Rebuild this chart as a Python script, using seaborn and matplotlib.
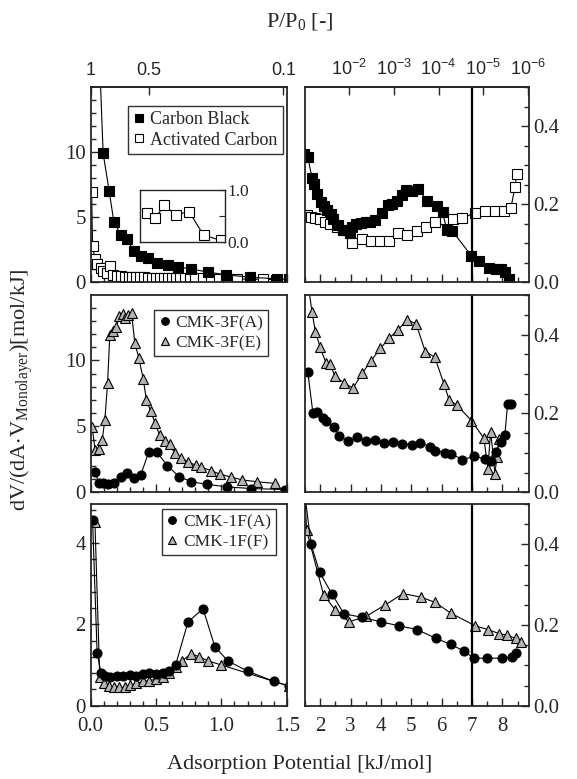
import numpy as np
import matplotlib
matplotlib.use("Agg")
import matplotlib.pyplot as plt
import seaborn as sns
from matplotlib.lines import Line2D
from matplotlib.ticker import MultipleLocator, FormatStrFormatter

sns.set_style("ticks")
plt.rcParams['font.family'] = ['Liberation Serif', 'DejaVu Serif']
plt.rcParams['mathtext.fontset'] = 'custom'
plt.rcParams['mathtext.rm'] = 'Liberation Serif'
plt.rcParams['mathtext.default'] = 'regular'

# ---- data: adsorption potential A [kJ/mol] vs dV/(dA*Vmono) [mol/kJ]
# top row: carbon black / activated carbon
cb_left_a = [0.065, 0.096, 0.142, 0.178, 0.231, 0.275, 0.33, 0.389, 0.44, 0.511, 0.593, 0.669, 0.771, 0.898, 1.038, 1.216, 1.425, 1.52]
cb_left_v = [18.0, 9.87, 6.98, 4.62, 3.62, 3.31, 2.39, 1.99, 1.86, 1.47, 1.28, 1.16, 1.0, 0.76, 0.55, 0.37, 0.24, 0.21]
ac_left_a = [0.008, 0.015, 0.033, 0.05, 0.076, 0.096, 0.122, 0.147, 0.173,
             0.20, 0.23, 0.26, 0.29, 0.32, 0.35, 0.38, 0.41, 0.44, 0.47, 0.50, 0.53, 0.56, 0.59, 0.62, 0.65, 0.68,
             0.72, 0.76, 0.80, 0.86, 0.92, 0.98, 1.05, 1.12, 1.22, 1.32, 1.42]
ac_left_v = [6.93, 2.73, 1.79, 1.42, 1.08, 0.87, 0.68, 1.2, 0.55,
             0.48, 0.45, 0.42, 0.40, 0.38, 0.37, 0.36, 0.35, 0.34, 0.33, 0.33, 0.32, 0.31, 0.31, 0.30, 0.30, 0.29,
             0.29, 0.28, 0.28, 0.27, 0.26, 0.25, 0.24, 0.23, 0.22, 0.2, 0.19]
cb_right_a = [1.48, 1.59, 1.73, 1.81, 1.89, 2.02, 2.13, 2.22, 2.35, 2.43, 2.59, 2.76, 2.97, 3.06, 3.19, 3.35, 3.52,
              3.65, 3.79, 4.03, 4.22, 4.38, 4.54, 4.68, 4.81, 5.03, 5.22, 5.52, 5.84, 6.03, 6.17, 6.35, 6.98, 7.23,
              7.57, 7.79, 7.95, 8.08, 8.22]
cb_right_v = [0.328, 0.321, 0.268, 0.252, 0.226, 0.205, 0.194, 0.185, 0.174, 0.162, 0.146, 0.133, 0.127, 0.142,
              0.148, 0.151, 0.153, 0.155, 0.159, 0.177, 0.198, 0.201, 0.207, 0.223, 0.237, 0.233, 0.240, 0.209,
              0.194, 0.179, 0.133, 0.131, 0.067, 0.055, 0.036, 0.034, 0.034, 0.025, 0.008]
ac_right_a = [1.55, 1.70, 1.84, 2.0, 2.16, 2.32, 2.54, 2.76, 3.06, 3.39, 3.68, 3.98, 4.27, 4.57, 4.87, 5.19, 5.48,
              5.77, 6.11, 6.38, 6.68, 7.09, 7.41, 7.74, 8.04, 8.28, 8.41, 8.47]
ac_right_v = [0.172, 0.168, 0.165, 0.162, 0.155, 0.148, 0.142, 0.133, 0.101, 0.110, 0.105, 0.105, 0.105, 0.125,
              0.120, 0.131, 0.142, 0.153, 0.162, 0.162, 0.165, 0.177, 0.181, 0.183, 0.181, 0.191, 0.243, 0.276]
inset_x = [0.086, 0.176, 0.29, 0.42, 0.58, 0.75, 0.95]
inset_v = [0.55, 0.45, 0.7, 0.52, 0.58, 0.13, 0.03]

# middle row: CMK-3F
cmk3a_left_a = [0.033, 0.063, 0.096, 0.134, 0.18, 0.231, 0.282, 0.333, 0.384, 0.445, 0.504, 0.588, 0.674, 0.771, 0.893, 1.046, 1.224, 1.49]
cmk3a_left_v = [1.54, 0.73, 0.73, 0.62, 0.68, 1.15, 1.46, 1.07, 1.33, 3.07, 3.07, 2.03, 1.2, 0.8, 0.6, 0.41, 0.29, 0.21]
cmk3e_left_a = [0.012, 0.035, 0.065, 0.089, 0.109, 0.13, 0.147, 0.173, 0.198, 0.218, 0.244, 0.262, 0.287, 0.313,
                0.338, 0.369, 0.402, 0.427, 0.46, 0.491, 0.529, 0.567, 0.605, 0.644, 0.695, 0.745, 0.804, 0.847,
                0.924, 0.987, 1.076, 1.16, 1.275, 1.407]
cmk3e_left_v = [4.92, 3.2, 3.3, 3.98, 5.49, 8.3, 11.95, 12.27, 12.52, 13.36, 13.49, 13.26, 13.44, 13.57, 11.35,
                10.18, 8.62, 7.0, 6.15, 5.29, 4.32, 3.93, 3.67, 2.95, 2.58, 2.32, 2.05, 1.9, 1.64, 1.38, 1.15,
                0.94, 0.8, 0.68]
cmk3a_right_a = [1.59, 1.76, 1.91, 2.09, 2.19, 2.45, 2.63, 2.92, 3.21, 3.52, 3.82, 4.11, 4.41, 4.70, 5.01, 5.30,
                 5.63, 5.79, 6.11, 6.31, 6.68, 7.06, 7.44, 7.62, 7.78, 7.95, 8.08, 8.17, 8.27]
cmk3a_right_v = [0.306, 0.202, 0.203, 0.188, 0.18, 0.165, 0.144, 0.129, 0.14, 0.129, 0.132, 0.126, 0.127, 0.123,
                 0.121, 0.126, 0.115, 0.105, 0.1, 0.098, 0.083, 0.091, 0.085, 0.08, 0.102, 0.127, 0.146, 0.225, 0.225]
cmk3e_right_a = [1.60, 1.73, 1.84, 2.0, 2.19, 2.32, 2.49, 2.78, 3.08, 3.39, 3.68, 3.98, 4.27, 4.57, 4.87, 5.16,
                 5.46, 5.77, 6.08, 6.25, 6.49, 6.98, 7.39, 7.52, 7.61, 7.70, 7.75, 7.82, 7.88]
cmk3e_right_v = [0.53, 0.458, 0.408, 0.368, 0.328, 0.326, 0.294, 0.278, 0.264, 0.303, 0.334, 0.365, 0.391, 0.413,
                 0.438, 0.427, 0.357, 0.343, 0.274, 0.233, 0.222, 0.182, 0.137, 0.06, 0.154, 0.09, 0.047, 0.09, 0.136]

# bottom row: CMK-1F
cmk1a_left_a = [0.015, 0.05, 0.08, 0.11, 0.15, 0.2, 0.25, 0.3, 0.35, 0.4, 0.45, 0.5, 0.55, 0.6, 0.65, 0.745, 0.86, 0.95, 1.05, 1.2, 1.4, 1.52]
cmk1a_left_v = [4.56, 1.3, 0.8, 0.72, 0.7, 0.72, 0.72, 0.75, 0.72, 0.78, 0.8, 0.78, 0.8, 0.85, 1.0, 2.06, 2.38, 1.45, 1.1, 0.85, 0.6, 0.48]
cmk1f_left_a = [0.033, 0.07, 0.1, 0.14, 0.18, 0.22, 0.26, 0.3, 0.35, 0.4, 0.45, 0.5, 0.55, 0.6, 0.65, 0.7, 0.77, 0.83, 0.9, 1.0, 1.52]
cmk1f_left_v = [4.52, 0.7, 0.55, 0.48, 0.45, 0.45, 0.45, 0.5, 0.55, 0.6, 0.62, 0.65, 0.7, 0.8, 0.95, 1.1, 1.28, 1.2, 1.1, 1.0, 0.48]
cmk1a_right_a = [1.50, 1.70, 1.98, 2.38, 2.78, 3.39, 4.0, 4.60, 5.19, 5.81, 6.3, 6.75, 7.05, 7.5, 8.0, 8.3, 8.45]
cmk1a_right_v = [0.52, 0.40, 0.331, 0.278, 0.228, 0.219, 0.208, 0.198, 0.189, 0.167, 0.152, 0.135, 0.118, 0.118, 0.118, 0.12, 0.13]
cmk1f_right_a = [1.50, 1.55, 2.11, 2.49, 2.95, 3.52, 4.14, 4.73, 5.33, 5.79, 6.31, 7.11, 7.52, 7.88, 8.15, 8.44, 8.62]
cmk1f_right_v = [0.52, 0.436, 0.275, 0.238, 0.208, 0.222, 0.25, 0.278, 0.269, 0.256, 0.229, 0.198, 0.189, 0.179, 0.175, 0.167, 0.157]

# top axis: relative pressure, A = RT ln(P0/P) for N2 at 77 K
RT = 8.314 * 77 / 1000
p_left = [1, 0.5, 0.1]
p_left_labels = ['1', '0.5', '0.1']
p_right = [1e-2, 1e-3, 1e-4, 1e-5, 1e-6]
p_right_labels = [r'$10^{-2}$', r'$10^{-3}$', r'$10^{-4}$', r'$10^{-5}$', r'$10^{-6}$']

fig = plt.figure(figsize=(5.77, 7.79), dpi=100)

rows = [(0.638, 0.250), (0.368, 0.253), (0.094, 0.259)]
left_x, left_w = 0.157, 0.340
right_x, right_w = 0.5286, 0.388

axes = []
for (b, h) in rows:
    axl = fig.add_axes([left_x, b, left_w, h])
    axr = fig.add_axes([right_x, b, right_w, h])
    axes.append((axl, axr))


def draw(ax, a, v, marker, face):
    sns.lineplot(x=a, y=v, ax=ax, sort=False, estimator=None, color='black', linewidth=0.8,
                 marker=marker, markersize=6.5, markerfacecolor=face, markeredgecolor='black',
                 markeredgewidth=0.8)


gray = '#b4b4b4'
draw(axes[0][0], ac_left_a, ac_left_v, 's', 'white')
draw(axes[0][0], cb_left_a, cb_left_v, 's', 'black')
draw(axes[0][1], ac_right_a, ac_right_v, 's', 'white')
draw(axes[0][1], cb_right_a, cb_right_v, 's', 'black')
draw(axes[1][0], cmk3e_left_a, cmk3e_left_v, '^', gray)
draw(axes[1][0], cmk3a_left_a, cmk3a_left_v, 'o', 'black')
draw(axes[1][1], cmk3e_right_a, cmk3e_right_v, '^', gray)
draw(axes[1][1], cmk3a_right_a, cmk3a_right_v, 'o', 'black')
draw(axes[2][0], cmk1f_left_a, cmk1f_left_v, '^', gray)
draw(axes[2][0], cmk1a_left_a, cmk1a_left_v, 'o', 'black')
draw(axes[2][1], cmk1f_right_a, cmk1f_right_v, '^', gray)
draw(axes[2][1], cmk1a_right_a, cmk1a_right_v, 'o', 'black')

left_ylims = [(0, 14.95), (0, 14.95), (0, 4.95)]
for i, (axl, axr) in enumerate(axes):
    axl.set_xlim(0, 1.5)
    axr.set_xlim(1.5, 8.87)
    axl.set_ylim(*left_ylims[i])
    axr.set_ylim(0, 0.5)
    axr.axvline(7.0, color='black', lw=1.6)
    for ax in (axl, axr):
        for s in ax.spines.values():
            s.set_linewidth(1.3)
        ax.set_xlabel('')
        ax.set_ylabel('')
        ax.tick_params(which='both', direction='in', labelsize=15, width=1.0)
        ax.tick_params(which='major', length=6)
        ax.tick_params(which='minor', length=3.5)
    axl.xaxis.set_major_locator(MultipleLocator(0.5))
    axl.xaxis.set_minor_locator(MultipleLocator(0.1))
    axr.xaxis.set_major_locator(MultipleLocator(1))
    axr.xaxis.set_minor_locator(MultipleLocator(0.5))
    if i < 2:
        axl.yaxis.set_major_locator(MultipleLocator(5))
        axl.yaxis.set_minor_locator(MultipleLocator(1))
    else:
        axl.yaxis.set_major_locator(MultipleLocator(2))
        axl.yaxis.set_minor_locator(MultipleLocator(0.4))
    axr.yaxis.set_major_locator(MultipleLocator(0.2))
    axr.yaxis.set_minor_locator(MultipleLocator(0.05))
    axr.yaxis.tick_right()
    axr.tick_params(axis='y', which='both', left=False, right=True, labelleft=False, labelright=True)
    axl.tick_params(axis='y', which='both', left=True, right=False)
    for ax in (axl, axr):
        ax.tick_params(axis='x', which='both', top=False, bottom=True, labelbottom=(i == 2), pad=8)
    axl.yaxis.set_major_formatter(FormatStrFormatter('%d'))
    axr.yaxis.set_major_formatter(FormatStrFormatter('%.1f'))
    if i == 2:
        axl.xaxis.set_major_formatter(FormatStrFormatter('%.1f'))

# top pressure axes
for ax, ps, labs in [(axes[0][0], p_left, p_left_labels), (axes[0][1], p_right, p_right_labels)]:
    sec = ax.secondary_xaxis('top')
    sec.set_xticks([RT * np.log(1 / p) for p in ps], labs)
    sec.tick_params(direction='in', length=6, width=1.0, labelsize=13, pad=6)
    for t in sec.get_xticklabels():
        t.set_fontfamily('Liberation Sans')
    sec.spines['top'].set_linewidth(1.3)

# inset in top-left panel
axi = axes[0][0].inset_axes([0.251, 0.206, 0.433, 0.268])
sns.lineplot(x=inset_x, y=inset_v, ax=axi, sort=False, estimator=None, color='black', linewidth=0.8,
             marker='s', markersize=6.5, markerfacecolor='white', markeredgecolor='black', markeredgewidth=0.8)
axi.set_xlim(0, 1)
axi.set_ylim(0, 1)
axi.set_xticks([])
axi.set_yticks([0, 0.5, 1.0], ['0.0', '', '1.0'])
axi.yaxis.tick_right()
axi.tick_params(axis='y', direction='in', length=4, labelsize=12.5, pad=2)
axi.set_xlabel('')
axi.set_ylabel('')
for s in axi.spines.values():
    s.set_linewidth(1.0)


# legends
def legend(ax, items, anchor, fs):
    handles = [Line2D([], [], linestyle='none', marker=m, markersize=mss, markerfacecolor=f,
                      markeredgecolor='black', markeredgewidth=0.8) for m, f, mss, _ in items]
    labels = [lab for _, _, _, lab in items]
    lg = ax.legend(handles, labels, loc='upper right', bbox_to_anchor=anchor, fontsize=fs,
                   frameon=True, fancybox=False, edgecolor='black', handlelength=0.6,
                   handletextpad=0.3, borderpad=0.3, labelspacing=0.2, borderaxespad=0)
    lg.get_frame().set_linewidth(1.0)


legend(axes[0][0], [('s', 'black', 6, 'Carbon Black'), ('s', 'white', 6, 'Activated Carbon')], (0.98, 0.905), 13)
legend(axes[1][0], [('o', 'black', 5.5, 'CMK-3F(A)'), ('^', gray, 5.5, 'CMK-3F(E)')], (0.905, 0.925), 12.5)
legend(axes[2][0], [('o', 'black', 5.5, 'CMK-1F(A)'), ('^', gray, 5.5, 'CMK-1F(F)')], (0.945, 0.975), 12.5)

fig.text(0.52, 0.972, r'P/P$_0$ [-]', ha='center', va='center', fontsize=16)
fig.text(0.52, 0.018, 'Adsorption Potential [kJ/mol]', ha='center', va='center', fontsize=16)
fig.text(0.038, 0.5, r'dV/(dA$\cdot$V$_{Monolayer}$)[mol/kJ]', ha='center', va='center',
         rotation=90, fontsize=16)

fig.savefig('out.png', dpi=100)
